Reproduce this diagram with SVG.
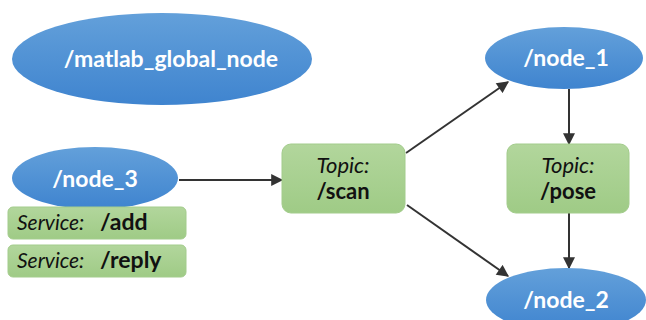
<svg xmlns="http://www.w3.org/2000/svg" width="646" height="320" viewBox="0 0 646 320">
<defs>
<linearGradient id="blue" x1="0" y1="0" x2="0" y2="1">
<stop offset="0" stop-color="#63a0da"/>
<stop offset="1" stop-color="#3f84cf"/>
</linearGradient>
<linearGradient id="green" x1="0" y1="0" x2="0" y2="1">
<stop offset="0" stop-color="#b2d69c"/>
<stop offset="1" stop-color="#9fcb86"/>
</linearGradient>
<marker id="arr" viewBox="0 0 10 10" refX="9" refY="5" markerWidth="6.5" markerHeight="6" orient="auto" markerUnits="strokeWidth">
<path d="M0,0 L10,5 L0,10 z" fill="#333"/>
</marker>
</defs>
<style>
.node{fill:url(#blue);}
.box{fill:url(#green);stroke:#a3cc8c;stroke-width:1;}
.nt{font-family:Lato,"Liberation Sans",sans-serif;font-weight:bold;font-size:23px;fill:#fff;text-anchor:middle;}
.it{font-family:Lato,"Liberation Sans",sans-serif;font-style:italic;font-size:21px;fill:#111;}
.bt{font-family:Lato,"Liberation Sans",sans-serif;font-weight:bold;font-size:23px;fill:#111;}
.tt{font-family:Lato,"Liberation Sans",sans-serif;font-style:italic;font-size:22px;fill:#111;text-anchor:middle;}
.tb{font-family:Lato,"Liberation Sans",sans-serif;font-weight:bold;font-size:22px;fill:#111;text-anchor:middle;}
.edge{stroke:#333;stroke-width:2;fill:none;marker-end:url(#arr);}
</style>
<rect width="646" height="320" fill="#fff"/>
<g id="connectors">
<line class="edge" x1="179" y1="180" x2="282" y2="180"/>
<line class="edge" x1="406" y1="153" x2="508" y2="82"/>
<line class="edge" x1="407" y1="205" x2="508" y2="276"/>
<line class="edge" x1="569" y1="89" x2="569" y2="144"/>
<line class="edge" x1="569" y1="213" x2="569" y2="268"/>
</g>
<g id="matlab_global_node">
<ellipse class="node" cx="162" cy="59" rx="150" ry="46"/>
<text class="nt" x="171" y="67">/matlab_global_node</text>
</g>
<g id="node_3">
<ellipse class="node" cx="95" cy="178" rx="83" ry="31"/>
<text class="nt" x="95" y="187">/node_3</text>
</g>
<g id="service_add">
<rect class="box" x="8" y="207" width="178" height="32" rx="5"/>
<text class="it" x="17" y="230">Service:</text>
<text class="bt" x="100" y="230">/add</text>
</g>
<g id="service_reply">
<rect class="box" x="8" y="245" width="178" height="32" rx="5"/>
<text class="it" x="17" y="268">Service:</text>
<text class="bt" x="100" y="268">/reply</text>
</g>
<g id="topic_scan">
<rect class="box" x="282" y="144" width="123" height="69" rx="9"/>
<text class="tt" x="343" y="173">Topic:</text>
<text class="tb" x="343" y="199">/scan</text>
</g>
<g id="topic_pose">
<rect class="box" x="507" y="144" width="122" height="69" rx="9"/>
<text class="tt" x="568" y="173">Topic:</text>
<text class="tb" x="568" y="199">/pose</text>
</g>
<g id="node_1">
<ellipse class="node" cx="564" cy="58" rx="79" ry="31"/>
<text class="nt" x="566" y="66">/node_1</text>
</g>
<g id="node_2">
<ellipse class="node" cx="566" cy="300" rx="80" ry="32"/>
<text class="nt" x="566" y="308">/node_2</text>
</g>
</svg>
